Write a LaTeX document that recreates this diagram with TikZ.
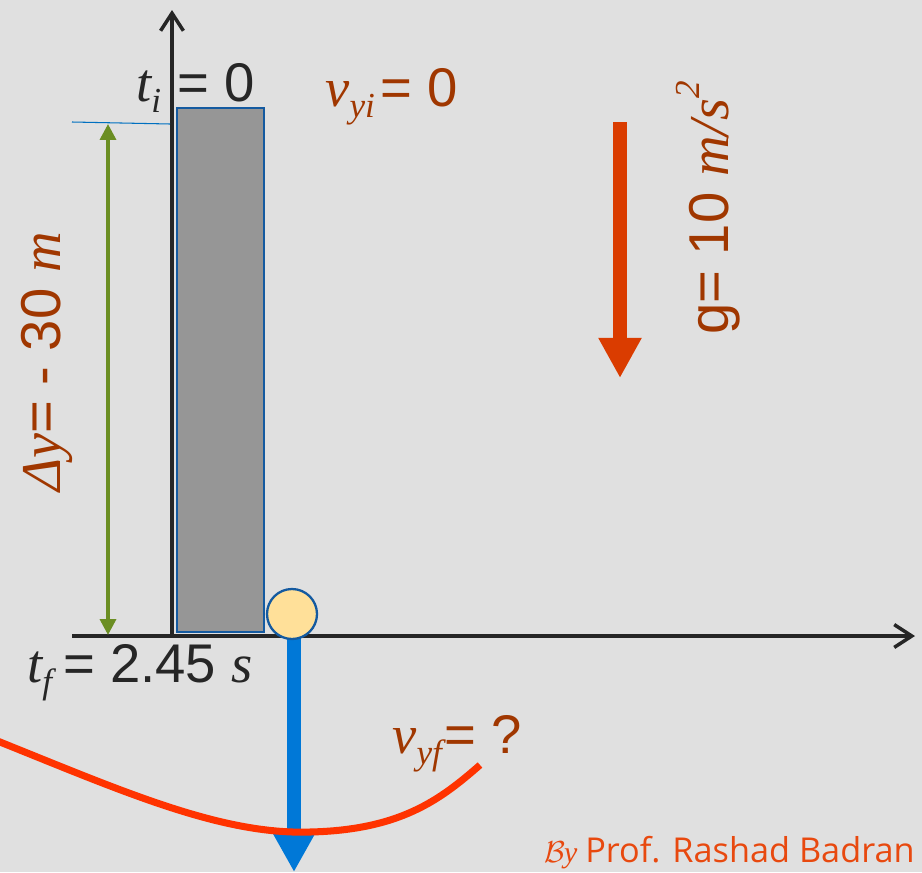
\documentclass[tikz,border=0pt]{standalone}
\usepackage{fontspec}
\setmainfont{Liberation Sans}
\newfontfamily\serfam{Liberation Serif}
\newfontfamily\sigfam{Open Sans}
\usepackage{tikz}
\usetikzlibrary{arrows.meta}

\definecolor{bgray}{RGB}{224,224,224}
\definecolor{axisdark}{RGB}{38,38,38}
\definecolor{blockgray}{RGB}{150,150,150}
\definecolor{edgeblue}{RGB}{20,90,160}
\definecolor{lineblue}{RGB}{0,112,192}
\definecolor{olive}{RGB}{107,142,35}
\definecolor{rust}{RGB}{160,55,0}
\definecolor{gorange}{RGB}{218,60,0}
\definecolor{ballyellow}{RGB}{255,224,153}
\definecolor{velblue}{RGB}{0,120,215}
\definecolor{curvered}{RGB}{255,51,0}
\definecolor{sigorange}{RGB}{232,73,15}

\newcommand{\qit}[1]{{\serfam\itshape #1}}
\newcommand{\qlow}[1]{\raisebox{-0.22em}{\fontsize{20}{20}\selectfont\serfam\itshape #1}}
\newcommand{\qhigh}[1]{\raisebox{0.5em}{\fontsize{20}{20}\selectfont\serfam\itshape #1}}

\begin{document}
\begin{tikzpicture}[x=0.02cm, y=-0.02cm,
    axisline/.style={line width=2pt, draw=axisdark, -{Straight Barb[length=10pt,width=13pt]}},
    bigtext/.style={font=\fontsize{31}{34}\selectfont, inner sep=0pt},
    rottext/.style={font=\fontsize{32}{35}\selectfont, inner sep=0pt, rotate=90, anchor=base}]
    \useasboundingbox (0,0) rectangle (922,872);
    % Background
    \fill[bgray] (0,0) rectangle (922,872);

    % Axes
    \draw[axisline] (172,636) -- (172,10);
    \draw[axisline] (72,636) -- (915,636);

    % Building (grey block)
    \draw[fill=blockgray, draw=edgeblue, line width=1.3pt] (177,108) rectangle (264,632);

    % Height marker
    \draw[lineblue, line width=0.6pt] (72,122) -- (170,124);
    \coordinate (htop) at (108,124);
    \coordinate (hbot) at (108,635);
    \draw[olive, line width=2pt, {Triangle[length=9pt,width=9pt]}-{Triangle[length=9pt,width=9pt]}] (htop) -- (hbot);
    \node[rottext, rust] (dy) at (60,362) {\qit{Δy}= - 30 \qit{m}};

    % Gravity arrow
    \draw[gorange, line width=7.6pt, -{Triangle[length=22.8pt,width=23pt]}] (620,122) -- (620,378);
    \node[rottext, rust] (grav) at (728,208) {g= 10 \qit{m/s}\qhigh{2}};

    % Final velocity arrow and ball
    \coordinate (vtop) at (294,638);
    \coordinate (vtip) at (294,872);
    \draw[velblue, line width=7.6pt, -{Triangle[length=22pt,width=22.5pt]}] (vtop) -- (vtip);
    \draw[fill=ballyellow, draw=edgeblue, line width=1.3pt] (292,614) circle (25);

    % Curve
    \draw[curvered, line width=4pt] (-5,740) .. controls (120,790) and (220,835) .. (310,832)
        .. controls (400,830) and (440,800) .. (480,765);

    % Labels
    \node[bigtext, axisdark, anchor=base west] (ti) at (136,101) {\qit{t}\qlow{i}\hspace{0.3em}= 0};
    \node[bigtext, rust, anchor=base west] (vyi) at (325,106) {\qit{v}\qlow{yi}\hspace{0.1em}= 0};
    \node[bigtext, axisdark, anchor=base west] (tf) at (27,682) {\qit{t}\qlow{f}\hspace{0.2em}= 2.45 \qit{s}};
    \node[bigtext, rust, anchor=base west] (vyf) at (392,753) {\qit{v}\qlow{yf}\hspace{0.05em}= ?};

    % Signature
    \node[sigorange, inner sep=0pt, anchor=base east] (sig) at (915,862)
        {{\fontsize{17}{17}\selectfont$\mathcal{B}$\kern-1pt\qit{y}}\hspace{0.45em}{\sigfam\fontsize{19.5}{22}\selectfont Prof. Rashad Badran}};
\end{tikzpicture}
\end{document}
